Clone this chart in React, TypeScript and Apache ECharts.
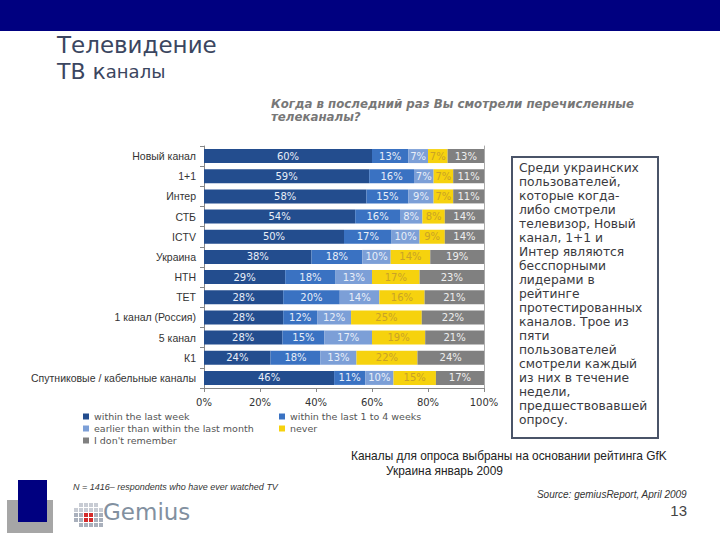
import React, { useEffect, useRef } from "react";
import * as echarts from "echarts";

const categories = [
  "Новый канал",
  "1+1",
  "Интер",
  "СТБ",
  "ICTV",
  "Украина",
  "НТН",
  "ТЕТ",
  "1 канал (Россия)",
  "5 канал",
  "К1",
  "Спутниковые / кабельные каналы",
];

const seriesNames = [
  "within the last week",
  "within the last 1 to 4 weeks",
  "earlier than within the last month",
  "never",
  "I don't remember",
];

const withinWeek = [60, 59, 58, 54, 50, 38, 29, 28, 28, 28, 24, 46];
const within1to4 = [13, 16, 15, 16, 17, 18, 18, 20, 12, 15, 18, 11];
const earlier = [7, 7, 9, 8, 10, 10, 13, 14, 12, 17, 13, 10];
const never = [7, 7, 7, 8, 9, 14, 17, 16, 25, 19, 22, 15];
const dontRemember = [13, 11, 11, 14, 14, 19, 23, 21, 22, 21, 24, 17];

const xTicks = [0, 20, 40, 60, 80, 100];

const seriesValues = [withinWeek, within1to4, earlier, never, dontRemember];
const seriesColors = ["#234d8e", "#3a72c2", "#7c9fd7", "#f6d20e", "#808080"];
const labelColors = ["#e8eef8", "#e8eef8", "#e8eef8", "#c9a227", "#eeeeee"];

const boxLines = [
  "Среди украинских",
  "пользователей,",
  "которые когда-",
  "либо смотрели",
  "телевизор, Новый",
  "канал, 1+1 и",
  "Интер являются",
  "бесспорными",
  "лидерами в",
  "рейтинге",
  "протестированных",
  "каналов. Трое из",
  "пяти",
  "пользователей",
  "смотрели каждый",
  "из них в течение",
  "недели,",
  "предшествовавшей",
  "опросу.",
];

function logoDots(): any[] {
  // Gemius logo dot grid (decorative)
  const cols = [74, 79, 84, 89, 94, 99];
  const rows = [503, 508, 513, 518, 523];
  const out: any[] = [];
  cols.forEach((cx, ci) => {
    rows.forEach((ry, ri) => {
      if ((ci === 0 && (ri === 0 || ri === 4)) || (ci === 5 && ri === 0)) return;
      const red = (ci === 2 || ci === 3) && (ri === 2 || ri === 3);
      out.push({
        type: "rect",
        shape: { x: cx, y: ry, width: 4, height: 4 },
        style: { fill: red ? "#d42a2a" : ri < 2 ? "#c8ccd4" : "#a9b0bc" },
      });
    });
  });
  return out;
}

export default function App() {
  const ref = useRef<HTMLDivElement>(null);

  useEffect(() => {
    if (!ref.current) return;
    const chart = echarts.init(ref.current, undefined, { renderer: "svg" });

    // 100% stacked: each row is scaled to its total, labels show the rounded values
    const totals = categories.map((_, r) =>
      seriesValues.reduce((s, arr) => s + arr[r], 0)
    );

    const series = seriesNames.map((name, i) => ({
      name,
      type: "bar",
      stack: "total",
      barWidth: 14,
      yAxisIndex: 0,
      data: seriesValues[i].map((v, r) => ({ value: (v / totals[r]) * 100, raw: v })),
      itemStyle: { color: seriesColors[i] },
      label: {
        show: true,
        position: "inside",
        formatter: (p: any) => `${p.data.raw}%`,
        color: labelColors[i],
        fontSize: 10,
        fontFamily: "DejaVu Sans",
      },
    }));

    const textFont = "DejaVu Sans";
    const legendText = { color: "#555555", fontSize: 9.5, fontFamily: textFont, lineHeight: 11 };

    chart.setOption({
      animation: false,
      backgroundColor: "#ffffff",
      grid: { left: 204, right: 236, top: 146, height: 242, containLabel: false },
      xAxis: {
        type: "value",
        min: 0,
        max: 100,
        interval: 20,
        axisLine: { show: true, lineStyle: { color: "#888888" } },
        axisTick: { show: true, length: 4, lineStyle: { color: "#888888" } },
        splitLine: { show: false },
        axisLabel: {
          formatter: (v: number) => (xTicks.includes(v) ? `${v}%` : ""),
          color: "#333333",
          fontSize: 10,
          fontFamily: "DejaVu Sans",
          margin: 9,
        },
      },
      yAxis: [
        {
          type: "category",
          data: categories,
          inverse: true,
          axisLine: { show: true, lineStyle: { color: "#888888" } },
          axisTick: { show: true, length: 4, lineStyle: { color: "#888888" } },
          axisLabel: {
            color: "#333333",
            fontSize: 10.5,
            fontFamily: "Liberation Sans",
            margin: 8,
          },
        },
        {
          type: "category",
          data: categories,
          inverse: true,
          position: "right",
          axisLine: { show: true, lineStyle: { color: "#aaaaaa" } },
          axisTick: { show: false },
          axisLabel: { show: false },
        },
      ],
      legend: [
        {
          left: 78,
          top: 406,
          orient: "vertical",
          data: [seriesNames[0], seriesNames[2], seriesNames[4]],
          icon: "rect",
          itemWidth: 6,
          itemHeight: 6,
          itemGap: 1,
          textStyle: legendText,
          selectedMode: false,
        },
        {
          left: 274,
          top: 406,
          orient: "vertical",
          data: [seriesNames[1], seriesNames[3]],
          icon: "rect",
          itemWidth: 6,
          itemHeight: 6,
          itemGap: 1,
          textStyle: legendText,
          selectedMode: false,
        },
      ],
      series,
      graphic: [
        { type: "rect", shape: { x: 0, y: 0, width: 720, height: 31 }, style: { fill: "#000080" } },
        {
          type: "text",
          left: 57,
          top: 33,
          style: { text: "Телевидение", font: "23px 'DejaVu Sans'", fill: "#3b4660" },
        },
        {
          type: "text",
          left: 57,
          top: 60,
          style: {
            text: "{a|ТВ к}{b|аналы}",
            rich: {
              a: { fontSize: 22, fontFamily: "DejaVu Sans", fill: "#3b4660", color: "#3b4660" },
              b: { fontSize: 18, fontFamily: "DejaVu Sans", fill: "#3b4660", color: "#3b4660" },
            },
          },
        },
        {
          type: "text",
          left: 271,
          top: 97,
          style: {
            text: "Когда в последний раз Вы смотрели перечисленные\nтелеканалы?",
            font: "italic bold 11.8px 'DejaVu Sans'",
            fill: "#777777",
            lineHeight: 13,
          },
        },
        {
          type: "rect",
          shape: { x: 512, y: 157, width: 146, height: 281 },
          style: { fill: "#ffffff", stroke: "#4a5468", lineWidth: 2 },
        },
        {
          type: "text",
          left: 519,
          top: 161,
          style: {
            text: boxLines.join("\n"),
            font: "12.3px 'DejaVu Sans'",
            fill: "#3a3a40",
            lineHeight: 14,
          },
        },
        {
          type: "text",
          left: 351,
          top: 450,
          style: {
            text: "Каналы для опроса выбраны на основании рейтинга GfK",
            font: "11.9px 'Liberation Sans'",
            fill: "#222222",
          },
        },
        {
          type: "text",
          left: 386,
          top: 465,
          style: { text: "Украина январь 2009", font: "11.9px 'Liberation Sans'", fill: "#222222" },
        },
        { type: "rect", shape: { x: 7, y: 500, width: 46, height: 33 }, style: { fill: "#a6a6a6" } },
        { type: "rect", shape: { x: 18, y: 480, width: 29, height: 42 }, style: { fill: "#000080" } },
        {
          type: "text",
          left: 73,
          top: 482,
          style: {
            text: "N = 1416– respondents who have ever watched TV",
            font: "italic 9px 'Liberation Sans'",
            fill: "#333333",
          },
        },
        {
          type: "text",
          right: 33,
          top: 489,
          style: {
            text: "Source: gemiusReport, April 2009",
            font: "italic 10px 'Liberation Sans'",
            fill: "#333333",
          },
        },
        {
          type: "text",
          right: 33,
          top: 503,
          style: { text: "13", font: "15px 'Liberation Sans'", fill: "#444444" },
        },
        ...logoDots(),
        {
          type: "text",
          left: 103,
          top: 500,
          style: { text: "Gemius", font: "23px 'DejaVu Sans'", fill: "#8290a0" },
        },
      ],
    });

    return () => chart.dispose();
  }, []);

  return (
    <div
      ref={ref}
      style={{ position: "fixed", left: 0, top: 0, width: 720, height: 540, background: "#fff" }}
    />
  );
}
